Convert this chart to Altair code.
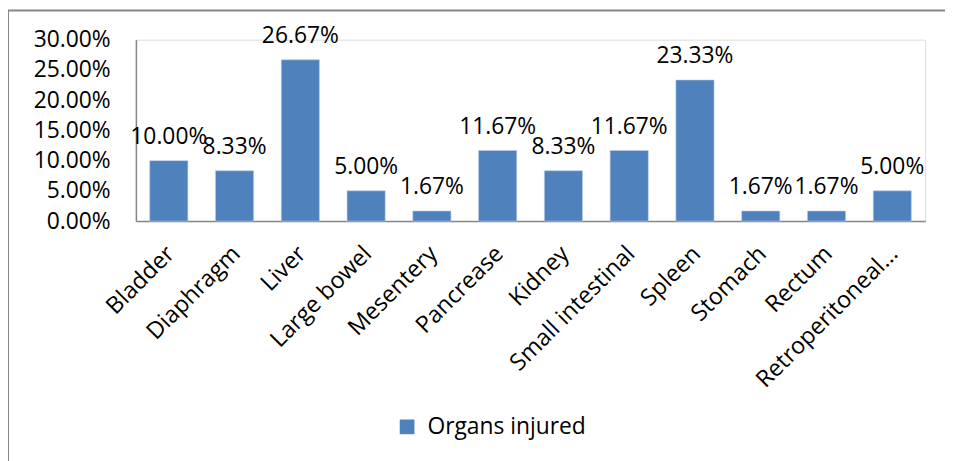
import altair as alt
import pandas as pd

organs = ["Bladder", "Diaphragm", "Liver", "Large bowel", "Mesentery", "Pancrease",
          "Kidney", "Small intestinal", "Spleen", "Stomach", "Rectum", "Retroperitoneal..."]
values = [10.00, 8.33, 26.67, 5.00, 1.67, 11.67, 8.33, 11.67, 23.33, 1.67, 1.67, 5.00]
y_ticks = [0, 0.05, 0.10, 0.15, 0.20, 0.25, 0.30]
series = "Organs injured"

df = pd.DataFrame({"organ": organs, "value": [v / 100 for v in values], "series": series})
df["label"] = [f"{v:.2f}%" for v in values]

FONT = "Open Sans"
FS = 23
W, H = 796, 183

x_axis = alt.Axis(labelAngle=-45, labelAlign="right", labelBaseline="middle",
                  ticks=False, labelPadding=29, labelOffset=2, labelFontSize=23.5,
                  labelFont=FONT, labelFontWeight="normal", labelOverlap=False,
                  labelColor="#000000", domainColor="#868686", domainWidth=1.5,
                  labelLimit=400)
y_axis = alt.Axis(values=y_ticks, format=".2%", tickCount=7,
                  grid=False, ticks=False, labelPadding=26, labelFontSize=FS,
                  labelFont=FONT, labelFontWeight="normal", labelOverlap=False,
                  labelColor="#000000", domainColor="#868686", domainWidth=1.5)
x_scale = alt.Scale(paddingInner=0.42, paddingOuter=0.21)
y_scale = alt.Scale(domain=[0, 0.30], nice=False)

x = alt.X("organ:N", sort=organs, title=None, scale=x_scale, axis=x_axis)
y = alt.Y("value:Q", title=None, scale=y_scale, axis=y_axis)

top_line = alt.Chart(pd.DataFrame({"a": [0]})).mark_rule(
    stroke="#868686", strokeWidth=2, clip=False
).encode(x=alt.value(-129), x2=alt.value(900), y=alt.value(-29.5))
left_line = alt.Chart(pd.DataFrame({"a": [0]})).mark_rule(
    stroke="#868686", strokeWidth=2, clip=False
).encode(x=alt.value(-129), y=alt.value(-29.5), y2=alt.value(500))

bars = alt.Chart(df).mark_bar(color="#4F81BD", stroke="#B9CDE5", strokeWidth=0.6).encode(
    x=x, y=y,
    color=alt.Color("series:N", scale=alt.Scale(range=["#4F81BD"]), title=None,
                    legend=alt.Legend(orient="none", legendX=262, legendY=379,
                                      symbolType="square", symbolSize=220,
                                      symbolStrokeWidth=0, labelFontSize=FS,
                                      labelFont=FONT, labelColor="#000000",
                                      labelOffset=9))
)

text = alt.Chart(df).mark_text(dy=-24, fontSize=FS, font=FONT, color="#000000").encode(
    x=x, y=y, text="label:N"
)

chart = alt.layer(top_line, left_line, bars, text).properties(
    width=W, height=H,
    autosize=alt.AutoSizeParams(type="none"),
    padding={"left": 129, "top": 30, "right": 20, "bottom": 240},
).configure_view(stroke=None, strokeWidth=0).configure(background="white")

chart.save("out.html", embed_options={"renderer": "svg", "actions": False})
